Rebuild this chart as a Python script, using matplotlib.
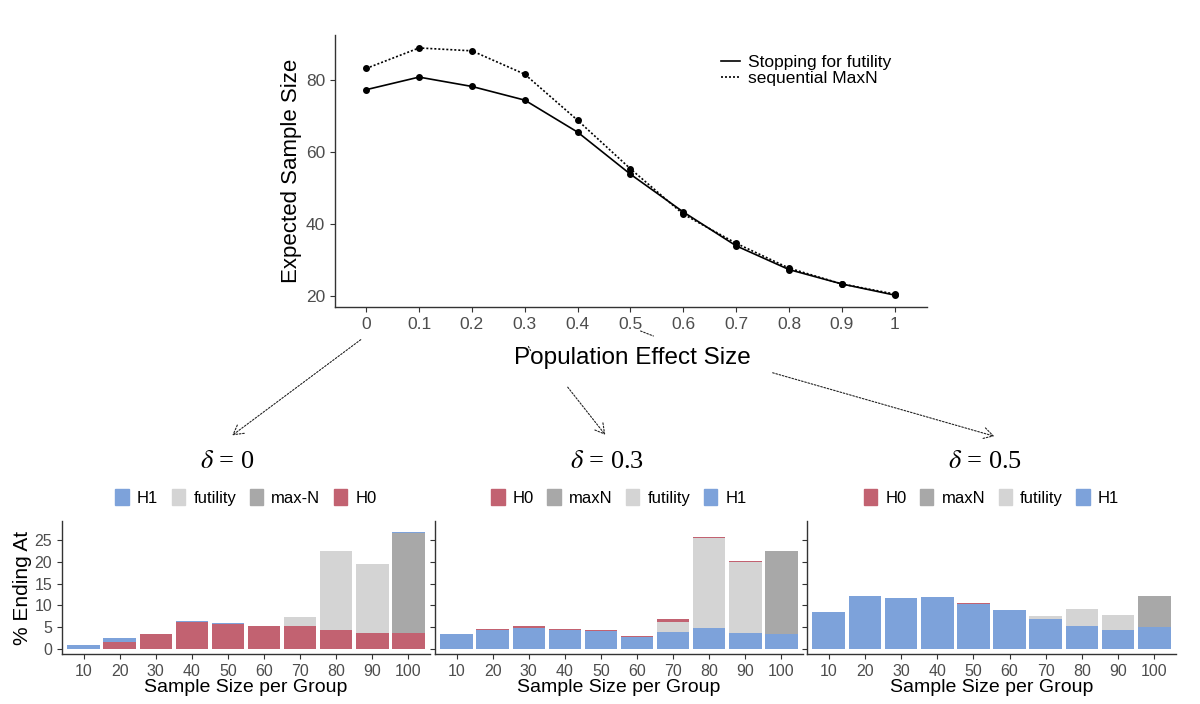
import numpy as np
import matplotlib
matplotlib.use("Agg")
import matplotlib.pyplot as plt
from matplotlib.patches import FancyArrowPatch, Patch
from matplotlib.lines import Line2D

plt.rcParams['font.family'] = ['Liberation Sans', 'DejaVu Sans']
plt.rcParams['mathtext.fontset'] = 'stix'

# top panel: expected sample size vs population effect size
effect = [0, 0.1, 0.2, 0.3, 0.4, 0.5, 0.6, 0.7, 0.8, 0.9, 1]
futility_n = [77.3, 80.8, 78.2, 74.4, 65.5, 53.8, 43.3, 33.9, 27.3, 23.3, 20.2]
maxn_n = [83.2, 88.9, 88.1, 81.6, 68.8, 55.3, 42.7, 34.6, 27.7, 23.3, 20.5]

# bottom panels: % ending at each sample size
sizes = [10, 20, 30, 40, 50, 60, 70, 80, 90, 100]

# delta = 0
h0_d0 = [0, 1.6, 3.45, 6.2, 5.7, 5.2, 5.15, 4.3, 3.6, 3.6]
maxn_d0 = [0, 0, 0, 0, 0, 0, 0, 0, 0, 23.1]
fut_d0 = [0, 0, 0, 0, 0, 0, 2.05, 18.2, 16.0, 0]
h1_d0 = [0.85, 0.85, 0, 0.15, 0.3, 0, 0.15, 0, 0, 0.15]

# delta = 0.3
h1_d3 = [3.45, 4.3, 4.85, 4.3, 4.0, 2.75, 3.9, 4.7, 3.6, 3.5]
fut_d3 = [0, 0, 0, 0, 0, 0, 2.3, 20.7, 16.3, 0]
maxn_d3 = [0, 0, 0, 0, 0, 0, 0, 0, 0, 19.1]
h0_d3 = [0, 0.2, 0.3, 0.2, 0.3, 0.2, 0.6, 0.3, 0.3, 0]

# delta = 0.5
h1_d5 = [8.35, 12.2, 11.6, 11.9, 10.4, 8.9, 6.9, 5.2, 4.4, 4.9]
fut_d5 = [0, 0, 0, 0, 0, 0, 0.7, 3.85, 3.35, 0]
maxn_d5 = [0, 0, 0, 0, 0, 0, 0, 0, 0, 7.2]
h0_d5 = [0, 0, 0.15, 0, 0.15, 0, 0, 0, 0, 0]

c_h1 = '#7DA2DA'
c_h0 = '#C26271'
c_fut = '#D4D4D4'
c_max = '#A8A8A8'
tick_col = '#4D4D4D'
spine_col = '#333333'

W, H = 1200, 704
fig = plt.figure(figsize=(12, 7.04), dpi=100)


def box(l, r, t, b):
    # pixel box -> figure fraction rect
    return [l / W, 1 - b / H, (r - l) / W, (b - t) / H]


def fxy(x, y):
    return (x / W, 1 - y / H)


def style_axes(ax, size):
    for s in ['top', 'right']:
        ax.spines[s].set_visible(False)
    for s in ['left', 'bottom']:
        ax.spines[s].set_color(spine_col)
        ax.spines[s].set_linewidth(1.0)
    ax.tick_params(colors=spine_col, labelcolor=tick_col, labelsize=size,
                   length=3.5, width=0.8)


# ---- top line chart ----
ax = fig.add_axes(box(335, 927, 35, 307))
ax.plot(effect, futility_n, color='black', lw=1.2, marker='o', ms=4,
        label='Stopping for futility')
ax.plot(effect, maxn_n, color='black', lw=1.2, ls=(0, (1.2, 1.2)), marker='o', ms=4,
        label='sequential MaxN')
ax.set_xlim(-0.059, 1.061)
ax.set_ylim(16.9, 92.5)
ax.set_xticks(effect)
ax.set_xticklabels(['0', '0.1', '0.2', '0.3', '0.4', '0.5', '0.6', '0.7', '0.8', '0.9', '1'])
ax.set_yticks([20, 40, 60, 80])
style_axes(ax, 12.5)
ax.set_ylabel('Expected Sample Size', fontsize=16, labelpad=3)
leg_handles = [Line2D([], [], color='black', lw=1.2),
               Line2D([], [], color='black', lw=1.2, ls=(0, (1.2, 1.2)))]
ax.legend(leg_handles, ['Stopping for futility', 'sequential MaxN'],
          loc='upper left', bbox_to_anchor=(0.625, 0.985), frameon=False,
          fontsize=12.5, handlelength=1.1, handletextpad=0.5, labelspacing=0.05)

fig.text(632 / W, 1 - 358 / H, 'Population Effect Size', fontsize=17.5,
         ha='center', va='center')

# ---- arrows ----
def dotted(p0, p1, head=True):
    if head:
        style = '->,head_length=7,head_width=4'
    else:
        style = '-'
    a = FancyArrowPatch(fxy(*p0), fxy(*p1), transform=fig.transFigure,
                        arrowstyle=style, mutation_scale=1, color='#222222',
                        lw=0.8, ls=(0, (1.5, 1.5)))
    fig.add_artist(a)


dotted((363, 338), (230, 437))
dotted((527, 344), (532, 353), head=False)
dotted((566, 385), (607, 437))
dotted((638, 330), (656, 337), head=False)
dotted((770, 372), (997, 437))

# ---- delta labels ----
for xc, lab in [(227, r'$\delta$ = 0'), (607, r'$\delta$ = 0.3'), (985, r'$\delta$ = 0.5')]:
    fig.text(xc / W, 1 - 462 / H, lab, fontsize=19, ha='center', va='center',
             family=['Liberation Serif', 'DejaVu Serif'])

# ---- bottom bar panels ----
panels = [
    (62, 430, [h0_d0, maxn_d0, fut_d0, h1_d0], [c_h0, c_max, c_fut, c_h1],
     ['H1', 'futility', 'max-N', 'H0'], [c_h1, c_fut, c_max, c_h0]),
    (435, 803, [h1_d3, fut_d3, maxn_d3, h0_d3], [c_h1, c_fut, c_max, c_h0],
     ['H0', 'maxN', 'futility', 'H1'], [c_h0, c_max, c_fut, c_h1]),
    (807, 1176, [h1_d5, fut_d5, maxn_d5, h0_d5], [c_h1, c_fut, c_max, c_h0],
     ['H0', 'maxN', 'futility', 'H1'], [c_h0, c_max, c_fut, c_h1]),
]

for i, (l, r, stacks, cols, leg_labels, leg_cols) in enumerate(panels):
    bx = fig.add_axes(box(l, r, 521, 654))
    bottom = np.zeros(len(sizes))
    for vals, c in zip(stacks, cols):
        bx.bar(sizes, vals, width=9, bottom=bottom, color=c, linewidth=0)
        bottom = bottom + np.array(vals)
    bx.set_xlim(4, 106)
    bx.set_ylim(-1.2, 29.4)
    bx.set_xticks(sizes)
    bx.set_yticks([0, 5, 10, 15, 20, 25])
    style_axes(bx, 11.5)
    if i == 0:
        bx.set_ylabel('% Ending At', fontsize=15, labelpad=2)
    else:
        bx.set_yticklabels([])
    bx.set_xlabel('Sample Size per Group', fontsize=14, labelpad=0)
    handles = [Patch(color=c) for c in leg_cols]
    bx.legend(handles, leg_labels, loc='lower center', bbox_to_anchor=(0.5, 1.0),
              ncol=4, frameon=False, fontsize=12, handlelength=0.8, handleheight=1.1,
              handletextpad=0.5, columnspacing=0.8)

fig.savefig('out.png', dpi=100)
